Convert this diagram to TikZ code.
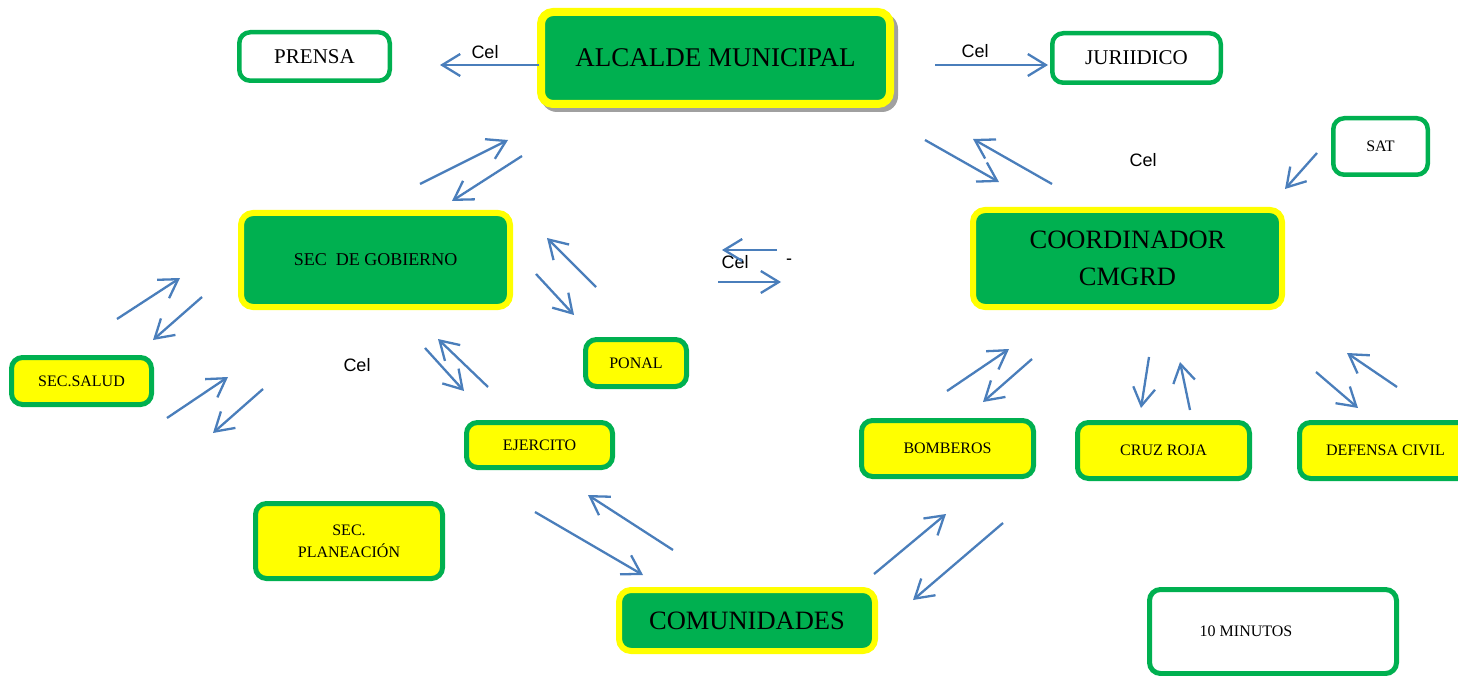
\documentclass[tikz,border=0pt]{standalone}
\usepackage{fontspec}
\setmainfont{Liberation Serif}
\newfontfamily\celfont{Liberation Sans}
\usetikzlibrary{arrows.meta}
\definecolor{boxgreen}{HTML}{00B050}
\definecolor{boxyellow}{HTML}{FFFF00}
\definecolor{arrowblue}{HTML}{4A7EBB}
\definecolor{shadowgray}{HTML}{A0A0A0}
\newcommand{\fs}[2]{\fontsize{#1}{#2}\selectfont}
\tikzset{
  mainbox/.style={draw=boxyellow, fill=boxgreen, line width=6pt, rounded corners=12pt, inner sep=0pt, align=center},
  subbox/.style={draw=boxgreen, fill=boxyellow, line width=5pt, rounded corners=11pt, inner sep=0pt, align=center, font=\fs{16}{22}},
  plainbox/.style={draw=boxgreen, fill=white, line width=4.5pt, rounded corners=11pt, inner sep=0pt, align=center},
  link/.style={draw=arrowblue, line width=2.3pt, -{Straight Barb[length=18pt,width=22pt,line width=2.3pt]}},
  cel/.style={font=\celfont\fs{18}{22}, inner sep=0pt}
}
\begin{document}
\begin{tikzpicture}[x=1pt,y=-1pt]
\useasboundingbox (0,0) rectangle (1458,676);
% shadow of the main box
\fill[shadowgray, rounded corners=16pt] (541,13) rectangle (898,112);
% boxes
\node[mainbox, line width=8pt, minimum width=349pt, minimum height=92pt, font=\fs{27}{30}] (alc) at (715.5,58) {ALCALDE MUNICIPAL};
\node[plainbox, minimum width=150.5pt, minimum height=48.5pt, font=\fs{21}{24}] (prensa) at (314.5,56.5) {PRENSA};
\node[plainbox, minimum width=168.5pt, minimum height=49.5pt, font=\fs{21}{24}] (jur) at (1136.5,58) {JURIIDICO};
\node[mainbox, minimum width=269pt, minimum height=94pt, font=\fs{18}{22}] (gob) at (375.5,260) {SEC\ \ DE GOBIERNO};
\node[mainbox, minimum width=309pt, minimum height=97pt, font=\fs{26.5}{37}] (coord) at (1127.5,258.5) {COORDINADOR\\CMGRD};
\node[plainbox, minimum width=94.5pt, minimum height=56.5pt, font=\fs{16}{20}] (sat) at (1380.5,146.5) {SAT};
\node[subbox, minimum width=140pt, minimum height=47pt] (salud) at (81.5,381) {SEC.SALUD};
\node[subbox, minimum width=101pt, minimum height=47pt] (ponal) at (636,363) {PONAL};
\node[subbox, minimum width=146pt, minimum height=45pt] (ejer) at (539.5,445) {EJERCITO};
\node[subbox, minimum width=172pt, minimum height=56pt] (bomb) at (947.5,448.5) {BOMBEROS};
\node[subbox, minimum width=172pt, minimum height=56pt] (cruz) at (1163.5,450.5) {CRUZ ROJA};
\node[subbox, minimum width=172pt, minimum height=56pt] (def) at (1385.5,450.5) {DEFENSA CIVIL};
\node[subbox, minimum width=187pt, minimum height=75pt] (plan) at (349,541) {SEC.\\PLANEACIÓN};
\node[mainbox, minimum width=256pt, minimum height=61pt, font=\fs{26.5}{30}] (com) at (747,620.5) {COMUNIDADES};
\node[plainbox, line width=5pt, minimum width=247pt, minimum height=84pt, font=\fs{16}{20}] (min) at (1273,631.5) {10 MINUTOS\hspace*{54pt}};
% labels
\node[cel] (c1) at (485,52) {Cel};
\node[cel] (c2) at (975,51) {Cel};
\node[cel] (c3) at (1143,160) {Cel};
\node[cel] (c4) at (735,262) {Cel};
\node[cel] (c5) at (357,365) {Cel};
\node[cel] (c6) at (789,262) {-};
% arrow end points
\coordinate (p1s) at (539,65);   \coordinate (p1e) at (440,65);
\coordinate (p2s) at (935,65);   \coordinate (p2e) at (1048,65);
\coordinate (p3s) at (420,184);  \coordinate (p3e) at (508,140);
\coordinate (p4s) at (522,156);  \coordinate (p4e) at (452,201);
\coordinate (p5s) at (925,140);  \coordinate (p5e) at (999,182);
\coordinate (p6s) at (1052,184); \coordinate (p6e) at (973,139);
\coordinate (p7s) at (1317,153); \coordinate (p7e) at (1285,189);
\coordinate (p8s) at (777,250);  \coordinate (p8e) at (722,250);
\coordinate (p9s) at (718,282);  \coordinate (p9e) at (781,282);
\coordinate (p10s) at (596,287); \coordinate (p10e) at (547,238);
\coordinate (p11s) at (536,274); \coordinate (p11e) at (574,315);
\coordinate (p12s) at (117,319); \coordinate (p12e) at (180,278);
\coordinate (p13s) at (202,297); \coordinate (p13e) at (153,340);
\coordinate (p14s) at (167,418); \coordinate (p14e) at (228,377);
\coordinate (p15s) at (263,389); \coordinate (p15e) at (213,433);
\coordinate (p16s) at (425,348); \coordinate (p16e) at (464,391);
\coordinate (p17s) at (488,387); \coordinate (p17e) at (438,339);
\coordinate (p18s) at (947,391); \coordinate (p18e) at (1009,349);
\coordinate (p19s) at (1032,359);\coordinate (p19e) at (983,402);
\coordinate (p20s) at (1149,357);\coordinate (p20e) at (1141,408);
\coordinate (p21s) at (1190,410);\coordinate (p21e) at (1180,362);
\coordinate (p22s) at (1316,372);\coordinate (p22e) at (1358,408);
\coordinate (p23s) at (1397,387);\coordinate (p23e) at (1347,353);
\coordinate (p24s) at (535,512); \coordinate (p24e) at (643,575);
\coordinate (p25s) at (673,550); \coordinate (p25e) at (588,495);
\coordinate (p26s) at (874,574); \coordinate (p26e) at (946,514);
\coordinate (p27s) at (1003,523);\coordinate (p27e) at (913,600);
\foreach \i in {1,...,27} {\draw[link] (p\i s) -- (p\i e);}
\end{tikzpicture}
\end{document}
